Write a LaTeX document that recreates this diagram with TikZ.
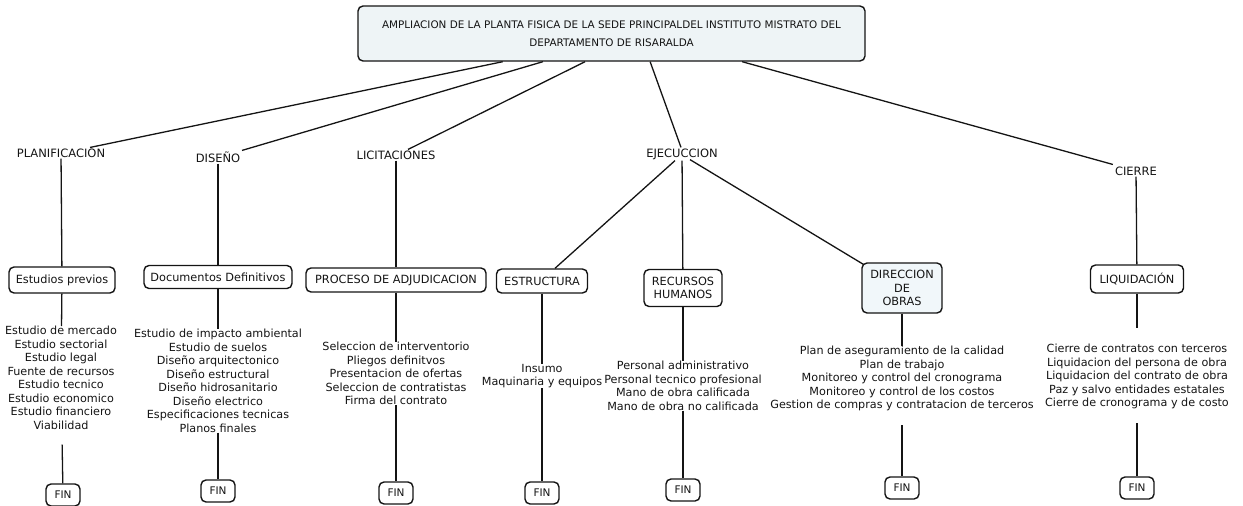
\documentclass[tikz,border=0pt]{standalone}
\usepackage{fontspec}
\setmainfont{DejaVu Sans}
\usetikzlibrary{calc}
\definecolor{ink}{HTML}{141414}
\definecolor{tfill}{HTML}{EEF4F6}
\definecolor{dfill}{HTML}{F1F7FA}
\begin{document}
\begin{tikzpicture}[x=1pt,y=-1pt,
  box/.style={draw=ink, line width=1.4pt, rounded corners=5pt, fill=white,
    font=\fontsize{11.3}{13.5}\selectfont, align=center, inner sep=0pt, text=ink},
  lbl/.style={font=\fontsize{11.5}{13}\selectfont, inner sep=1pt, text=ink},
  lst/.style={font=\fontsize{11.2}{13.5}\selectfont, align=center, inner sep=0pt, anchor=north, text=ink},
  finbox/.style={box, minimum width=34pt, minimum height=22pt, font=\fontsize{10.5}{12}\selectfont},
  conn/.style={draw=ink, line width=1.3pt}]
\useasboundingbox (0,0) rectangle (1243,506);

% title
\node[box, fill=tfill, minimum width=507pt, minimum height=55pt,
  font=\fontsize{10.4}{17.5}\selectfont] (title) at (611.5,33.5)
  {AMPLIACION DE LA PLANTA FISICA DE LA SEDE PRINCIPALDEL INSTITUTO MISTRATO DEL\\DEPARTAMENTO DE RISARALDA};

% level 1 labels
\node[lbl] (plan) at (61,153) {PLANIFICACION};
\node[lbl] (dis) at (218,157) {DISEÑO};
\node[lbl] (lic) at (396,155) {LICITACIONES};
\node[lbl] (ejec) at (682,154) {EJECUCCION};
\node[lbl] (cie) at (1136,171) {CIERRE};

% level 2 boxes
\node[box, minimum width=106pt, minimum height=26pt] (est) at (62,280) {Estudios previos};
\node[box, minimum width=148pt, minimum height=23pt] (doc) at (218,277) {Documentos Definitivos};
\node[box, minimum width=180pt, minimum height=24pt] (proc) at (396,280) {PROCESO DE ADJUDICACION};
\node[box, minimum width=91pt, minimum height=24pt] (estr) at (542,281) {ESTRUCTURA};
\node[box, minimum width=78pt, minimum height=37pt] (rrhh) at (683,288) {RECURSOS\\HUMANOS};
\node[box, fill=dfill, minimum width=80pt, minimum height=50pt] (dir) at (902,288) {DIRECCION\\DE\\OBRAS};
\node[box, minimum width=93pt, minimum height=28pt] (liq) at (1137,279) {LIQUIDACIÓN};

% lists
\node[lst] (l1) at (61,326) {Estudio de mercado\\Estudio sectorial\\Estudio legal\\Fuente de recursos\\Estudio tecnico\\Estudio economico\\Estudio financiero\\Viabilidad};
\node[lst] (l2) at (218,329) {Estudio de impacto ambiental\\Estudio de suelos\\Diseño arquitectonico\\Diseño estructural\\Diseño hidrosanitario\\Diseño electrico\\Especificaciones tecnicas\\Planos finales};
\node[lst] (l3) at (396,342) {Seleccion de interventorio\\Pliegos definitvos\\Presentacion de ofertas\\Seleccion de contratistas\\Firma del contrato};
\node[lst] (l4) at (542,364) {Insumo\\Maquinaria y equipos};
\node[lst] (l5) at (683,361) {Personal administrativo\\Personal tecnico profesional\\Mano de obra calificada\\Mano de obra no calificada};
\node[lst] (l6) at (902,346) {Plan de aseguramiento de la calidad\\Plan de trabajo\\Monitoreo y control del cronograma\\Monitoreo y control de los costos\\Gestion de compras y contratacion de terceros};
\node[lst] (l7) at (1137,344) {Cierre de contratos con terceros\\Liquidacion del persona de obra\\Liquidacion del contrato de obra\\Paz y salvo entidades estatales\\Cierre de cronograma y de costo};

% FIN boxes
\node[finbox] (f1) at (63,495) {FIN};
\node[finbox] (f2) at (218,491) {FIN};
\node[finbox] (f3) at (396,493) {FIN};
\node[finbox] (f4) at (542,493) {FIN};
\node[finbox] (f5) at (683,490) {FIN};
\node[finbox] (f6) at (902,488) {FIN};
\node[finbox] (f7) at (1137,488) {FIN};

% title connectors
\draw[conn] ($(title.south west)!0.286!(title.south east)$) -- ($(plan.north)+(29,0)$);
\draw[conn] ($(title.south west)!0.365!(title.south east)$) -- ($(dis.north)+(24,0)$);
\draw[conn] ($(title.south west)!0.448!(title.south east)$) -- ($(lic.north)+(12,0)$);
\draw[conn] ($(title.south west)!0.576!(title.south east)$) -- ($(ejec.north)+(-1,0)$);
\draw[conn] ($(title.south west)!0.757!(title.south east)$) -- ($(cie.north west)+(-1,-1)$);

% label to box
\draw[conn] (plan) -- (est);
\draw[conn] (dis) -- (doc);
\draw[conn] (lic) -- (proc);
\draw[conn] ($(ejec.south)+(-7,0)$) -- ($(estr.north)+(13,0)$);
\draw[conn] (ejec) -- (rrhh);
\draw[conn] ($(ejec.south)+(8,-1)$) -- ($(dir.north west)+(2,2)$);
\draw[conn] (cie) -- (liq);

% box to list
\draw[conn] (est) -- (l1);
\draw[conn] (doc) -- (l2);
\draw[conn] (proc) -- (l3);
\draw[conn] (estr) -- (l4);
\draw[conn] (rrhh) -- (l5);
\draw[conn] (dir) -- (l6);
\draw[conn, shorten >=16pt] (liq) -- (l7);

% list to FIN
\draw[conn, shorten <=15pt] (l1) -- (f1);
\draw[conn] (l2) -- (f2);
\draw[conn] (l3) -- (f3);
\draw[conn] (l4) -- (f4);
\draw[conn] (l5) -- (f5);
\draw[conn, shorten <=14pt] (l6) -- (f6);
\draw[conn, shorten <=14pt] (l7) -- (f7);
\end{tikzpicture}
\end{document}
